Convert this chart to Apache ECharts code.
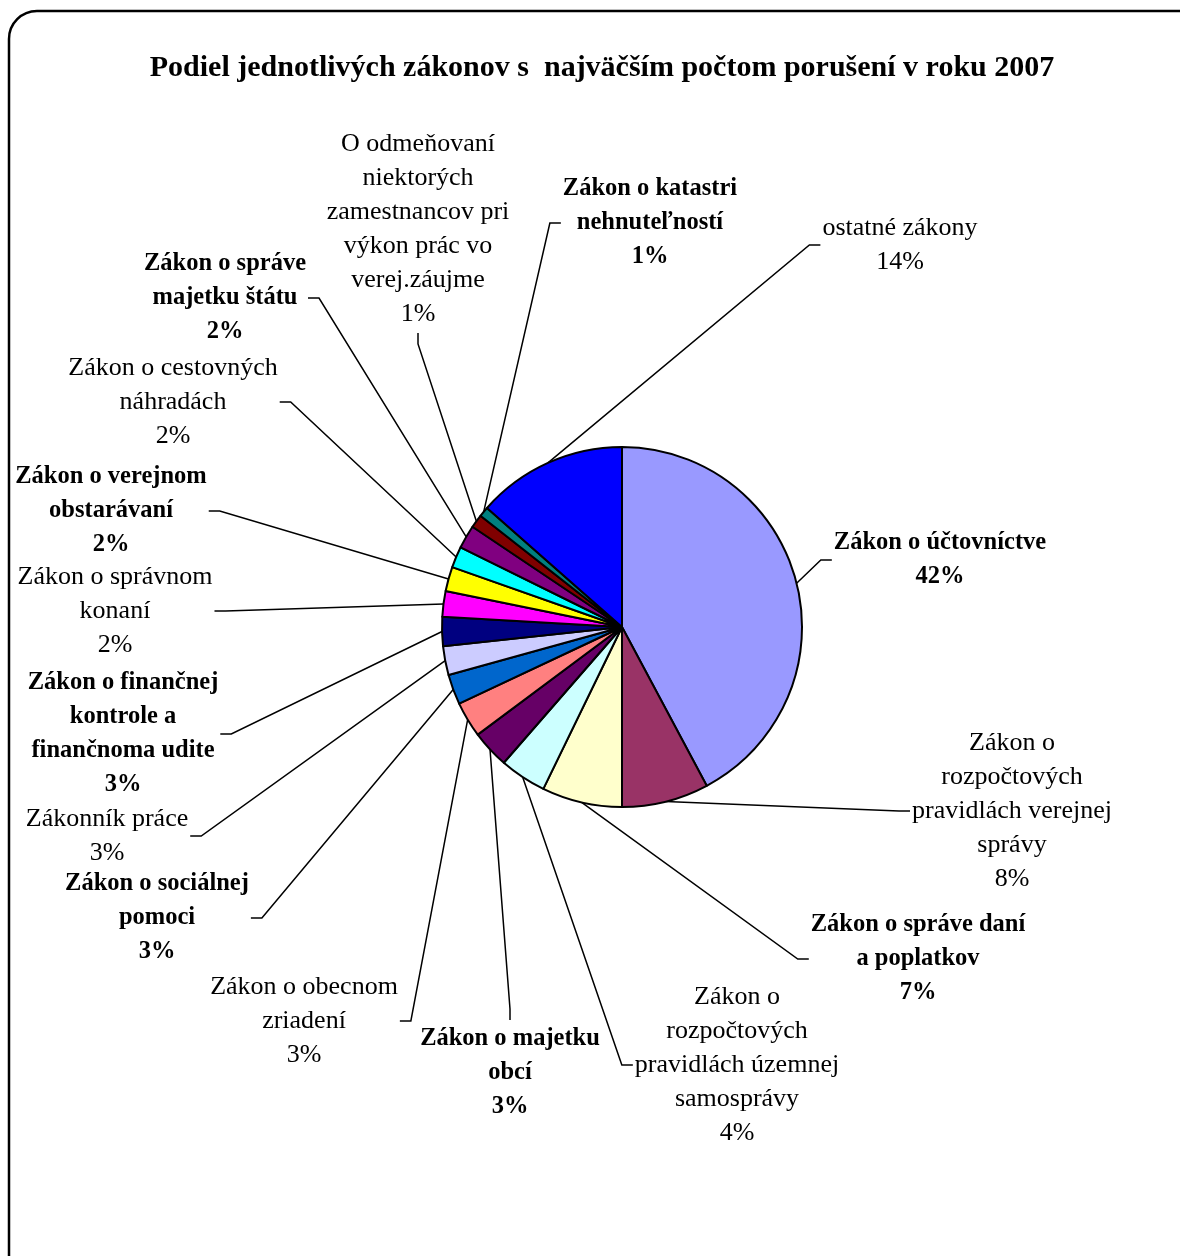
<!DOCTYPE html>
<html>
<head>
<meta charset="utf-8">
<title>Podiel zákonov</title>
<script src="https://cdn.jsdelivr.net/npm/echarts@6/dist/echarts.min.js"></script>
<style>
  html, body { margin: 0; padding: 0; background: #fff; }
  #main { width: 1180px; height: 1256px; }
</style>
</head>
<body>
<div id="main"></div>
<script>
// názvy zákonov (poradie v smere hodinových ručičiek od 12:00)
const laws = [
	'Zákon o účtovníctve',
	'Zákon o\nrozpočtových\npravidlách verejnej\nsprávy',
	'Zákon o správe daní\na poplatkov',
	'Zákon o\nrozpočtových\npravidlách územnej\nsamosprávy',
	'Zákon o majetku\nobcí',
	'Zákon o obecnom\nzriadení',
	'Zákon o sociálnej\npomoci',
	'Zákonník práce',
	'Zákon o finančnej\nkontrole a\nfinančnoma udite',
	'Zákon o správnom\nkonaní',
	'Zákon o verejnom\nobstarávaní',
	'Zákon o cestovných\nnáhradách',
	'Zákon o správe\nmajetku štátu',
	'O odmeňovaní\nniektorých\nzamestnancov pri\nvýkon prác vo\nverej.záujme',
	'Zákon o katastri\nnehnuteľností',
	'ostatné zákony'
];

// podiel porušení v % (odčítané z grafu)
const shares = [42.2, 7.8, 7.2, 4.2, 3.4, 3.2, 2.7, 2.6, 2.6, 2.3, 2.2, 1.9, 2.1, 1.2, 0.9, 13.5];

// farby výsekov
const sliceColors = [
	'#9999FF', '#993366', '#FFFFCC', '#CCFFFF', '#660066', '#FF8080', '#0066CC', '#CCCCFF',
	'#000080', '#FF00FF', '#FFFF00', '#00FFFF', '#800080', '#800000', '#008080', '#0000FF'
];

// stredy popisov (x, y) a strana, z ktorej ide spojnica
const labelPos = [
	[940, 560], [1012, 811], [918, 959], [737, 1065], [510, 1073], [304, 1021],
	[157, 918], [107, 836], [123, 734], [115, 611], [111, 511], [173, 402],
	[225, 298], [418, 229], [650, 223], [900, 245]
];
const lineSide = [
	'left', 'left', 'left', 'left', 'top', 'right', 'right', 'right',
	'right', 'right', 'right', 'right', 'right', 'bottom', 'left', 'left'
];

const FONT = '"Liberation Serif", "Times New Roman", serif';
const TICK = 11;

const chart = echarts.init(document.getElementById('main'));

// spojnica: od stredu oblúka výseku k okraju popisu s krátkou vodorovnou/zvislou čiarkou
function guidePoints(params, cx, cy) {
	const w = params.labelRect.width, h = params.labelRect.height;
	const anchor = params.labelLinePoints ? params.labelLinePoints[0] : [cx, cy];
	let inner, outer;
	switch (lineSide[params.dataIndex]) {
		case 'left':
			inner = [cx - w / 2 - 2, cy]; outer = [inner[0] - TICK, cy]; break;
		case 'right':
			inner = [cx + w / 2 + 2, cy]; outer = [inner[0] + TICK, cy]; break;
		case 'top':
			inner = [cx, cy - h / 2 - 2]; outer = [cx, inner[1] - TICK]; break;
		default:
			inner = [cx, cy + h / 2 + 2]; outer = [cx, inner[1] + TICK];
	}
	return [anchor, outer, inner];
}

chart.setOption({
	animation: false,
	graphic: [
		{
			type: 'rect',
			shape: { x: 9, y: 11, width: 1200, height: 1280, r: 28 },
			style: { fill: 'none', stroke: '#000', lineWidth: 2.5 },
			silent: true
		},
		{
			type: 'text',
			x: 602,
			y: 68,
			style: {
				text: 'Podiel jednotlivých zákonov s  najväčším počtom porušení v roku 2007',
				font: 'bold 30px ' + FONT,
				fill: '#000',
				align: 'center',
				verticalAlign: 'middle'
			}
		}
	],
	series: [{
		type: 'pie',
		center: [622, 627],
		radius: 180,
		startAngle: 90,
		clockwise: true,
		avoidLabelOverlap: false,
		itemStyle: { borderColor: '#000', borderWidth: 2 },
		label: {
			show: true,
			position: 'outside',
			color: '#000',
			fontFamily: FONT,
			fontSize: 26,
			lineHeight: 34,
			formatter: p => p.name + '\n' + Math.round(p.percent) + '%'
		},
		labelLine: {
			show: true,
			length: 20,
			length2: 12,
			lineStyle: { color: '#000', width: 1.5 }
		},
		labelLayout: params => {
			const p = labelPos[params.dataIndex];
			return {
				x: p[0],
				y: p[1],
				align: 'center',
				verticalAlign: 'middle',
				labelLinePoints: guidePoints(params, p[0], p[1])
			};
		},
		emphasis: { disabled: true },
		data: laws.map((name, i) => ({
			name: name,
			value: shares[i],
			itemStyle: { color: sliceColors[i] },
			label: i % 2 === 0 ? { fontWeight: 'bold', fontSize: 24.5 } : {}
		}))
	}]
});
</script>
</body>
</html>
